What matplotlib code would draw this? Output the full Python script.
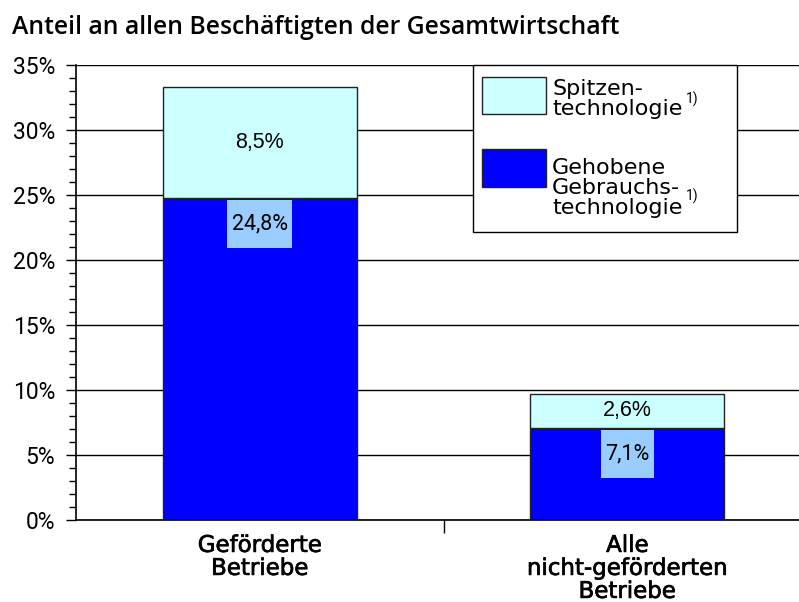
import matplotlib
matplotlib.use("Agg")
import matplotlib.pyplot as plt
import matplotlib.patheffects as pe
from matplotlib.patches import Rectangle
from matplotlib.ticker import MultipleLocator, FuncFormatter

categories = ["Geförderte\nBetriebe", "Alle\nnicht-geförderten\nBetriebe"]
gehobene = [24.8, 7.1]
spitzen = [8.5, 2.6]
gehobene_labels = ["24,8%", "7,1%"]
spitzen_labels = ["8,5%", "2,6%"]
legend_labels = ["Spitzen-\ntechnologie", "Gehobene\nGebrauchs-\ntechnologie"]
title = "Anteil an allen Beschäftigten der Gesamtwirtschaft"

plt.rcParams["font.family"] = ["Roboto", "DejaVu Sans"]
wide = ["Open Sans", "DejaVu Sans"]

fig = plt.figure(figsize=(7.99, 6.02), dpi=100)
ax = fig.add_axes([76 / 799, 82 / 602, 735 / 799, 455 / 602])

x = list(range(len(categories)))
ax.bar(x, gehobene, width=0.527, color="#0000ff", edgecolor="#222222", linewidth=1, zorder=2)
ax.bar(x, spitzen, width=0.527, bottom=gehobene, color="#ccffff", edgecolor="#222222", linewidth=1, zorder=2)

ax.set_xlim(-0.5, 1.5)
ax.set_ylim(0, 35)
ax.yaxis.set_major_locator(MultipleLocator(5))
ax.yaxis.set_minor_locator(MultipleLocator(1))
ax.yaxis.set_major_formatter(FuncFormatter(lambda v, p: f"{v:.0f}%"))
ax.grid(axis="y", color="black", linewidth=1, zorder=0)
ax.set_axisbelow(True)
for s in ["top", "right"]:
    ax.spines[s].set_visible(False)
ax.spines["left"].set_linewidth(1.2)
ax.spines["bottom"].set_linewidth(1.2)
ax.tick_params(axis="y", which="major", length=7, width=1, labelsize=16.5, pad=8)
ax.tick_params(axis="y", which="minor", length=5, width=1)

ax.set_xticks([0.5], minor=True)
ax.set_xticks(x)
ax.set_xticklabels(categories, fontsize=16.5, linespacing=1.0,
                   family=["DejaVu Sans"])
for lbl in ax.get_xticklabels():
    lbl.set_path_effects([pe.withStroke(linewidth=0.5, foreground="black")])
ax.tick_params(axis="x", which="major", length=0, pad=10)
ax.tick_params(axis="x", which="minor", length=9, width=1)

for i in x:
    ax.text(i, gehobene[i] + spitzen[i] / 2, spitzen_labels[i], ha="center", va="center",
            fontsize=15.5, family=["Liberation Sans", "DejaVu Sans"], zorder=4)

fig.canvas.draw()
renderer = fig.canvas.get_renderer()
inv = ax.transData.inverted()
for i in x:
    t = ax.text(i, gehobene[i] - 2, gehobene_labels[i], ha="center", va="center",
                fontsize=15.5, zorder=5)
    bb = t.get_window_extent(renderer)
    cx = (bb.x0 + bb.x1) / 2
    cy = (bb.y0 + bb.y1) / 2
    w = bb.width + 9
    h = 48
    (x0, y0) = inv.transform((cx - w / 2, cy - h / 2))
    (x1, y1) = inv.transform((cx + w / 2, cy + h / 2))
    ax.add_patch(Rectangle((x0, y0), x1 - x0, y1 - y0, facecolor="#99ccff",
                           edgecolor="none", zorder=4))

# legend box
lx0, lx1, ly0, ly1 = (473 - 76) / 735, (737 - 76) / 735, (520 - 232) / 455, 1.0
ax.add_patch(Rectangle((lx0, ly0), lx1 - lx0, ly1 - ly0, transform=ax.transAxes,
                       facecolor="white", edgecolor="black", linewidth=1, zorder=6, clip_on=False))
px0 = (482 - 76) / 735
pw = 64 / 735
ax.add_patch(Rectangle((px0, (520 - 114) / 455), pw, 37 / 455, transform=ax.transAxes,
                       facecolor="#ccffff", edgecolor="#222222", linewidth=1, zorder=7))
ax.add_patch(Rectangle((px0, (520 - 187) / 455), pw, 38 / 455, transform=ax.transAxes,
                       facecolor="#0000ff", edgecolor="#222222", linewidth=1, zorder=7))
tx = (552 - 76) / 735
ax.text(tx, (520 - 115) / 455, legend_labels[0], transform=ax.transAxes,
        ha="left", va="baseline", fontsize=16, linespacing=1.0, zorder=8,
        family=["DejaVu Sans"])
ax.text(tx, (520 - 214) / 455, legend_labels[1], transform=ax.transAxes,
        ha="left", va="baseline", fontsize=16, linespacing=1.0, zorder=8,
        family=["DejaVu Sans"])
sx = (686 - 76) / 735
ax.text(sx, (520 - 99) / 455, "1)", transform=ax.transAxes, ha="left", va="center",
        fontsize=10, zorder=8)
ax.text(sx, (520 - 196) / 455, "1)", transform=ax.transAxes, ha="left", va="center",
        fontsize=10, zorder=8)

fig.text(12 / 799, 1 - 34 / 602, title, ha="left", va="baseline", fontsize=17.8,
         fontweight="semibold", family=wide)

fig.savefig("out.png", dpi=100)
